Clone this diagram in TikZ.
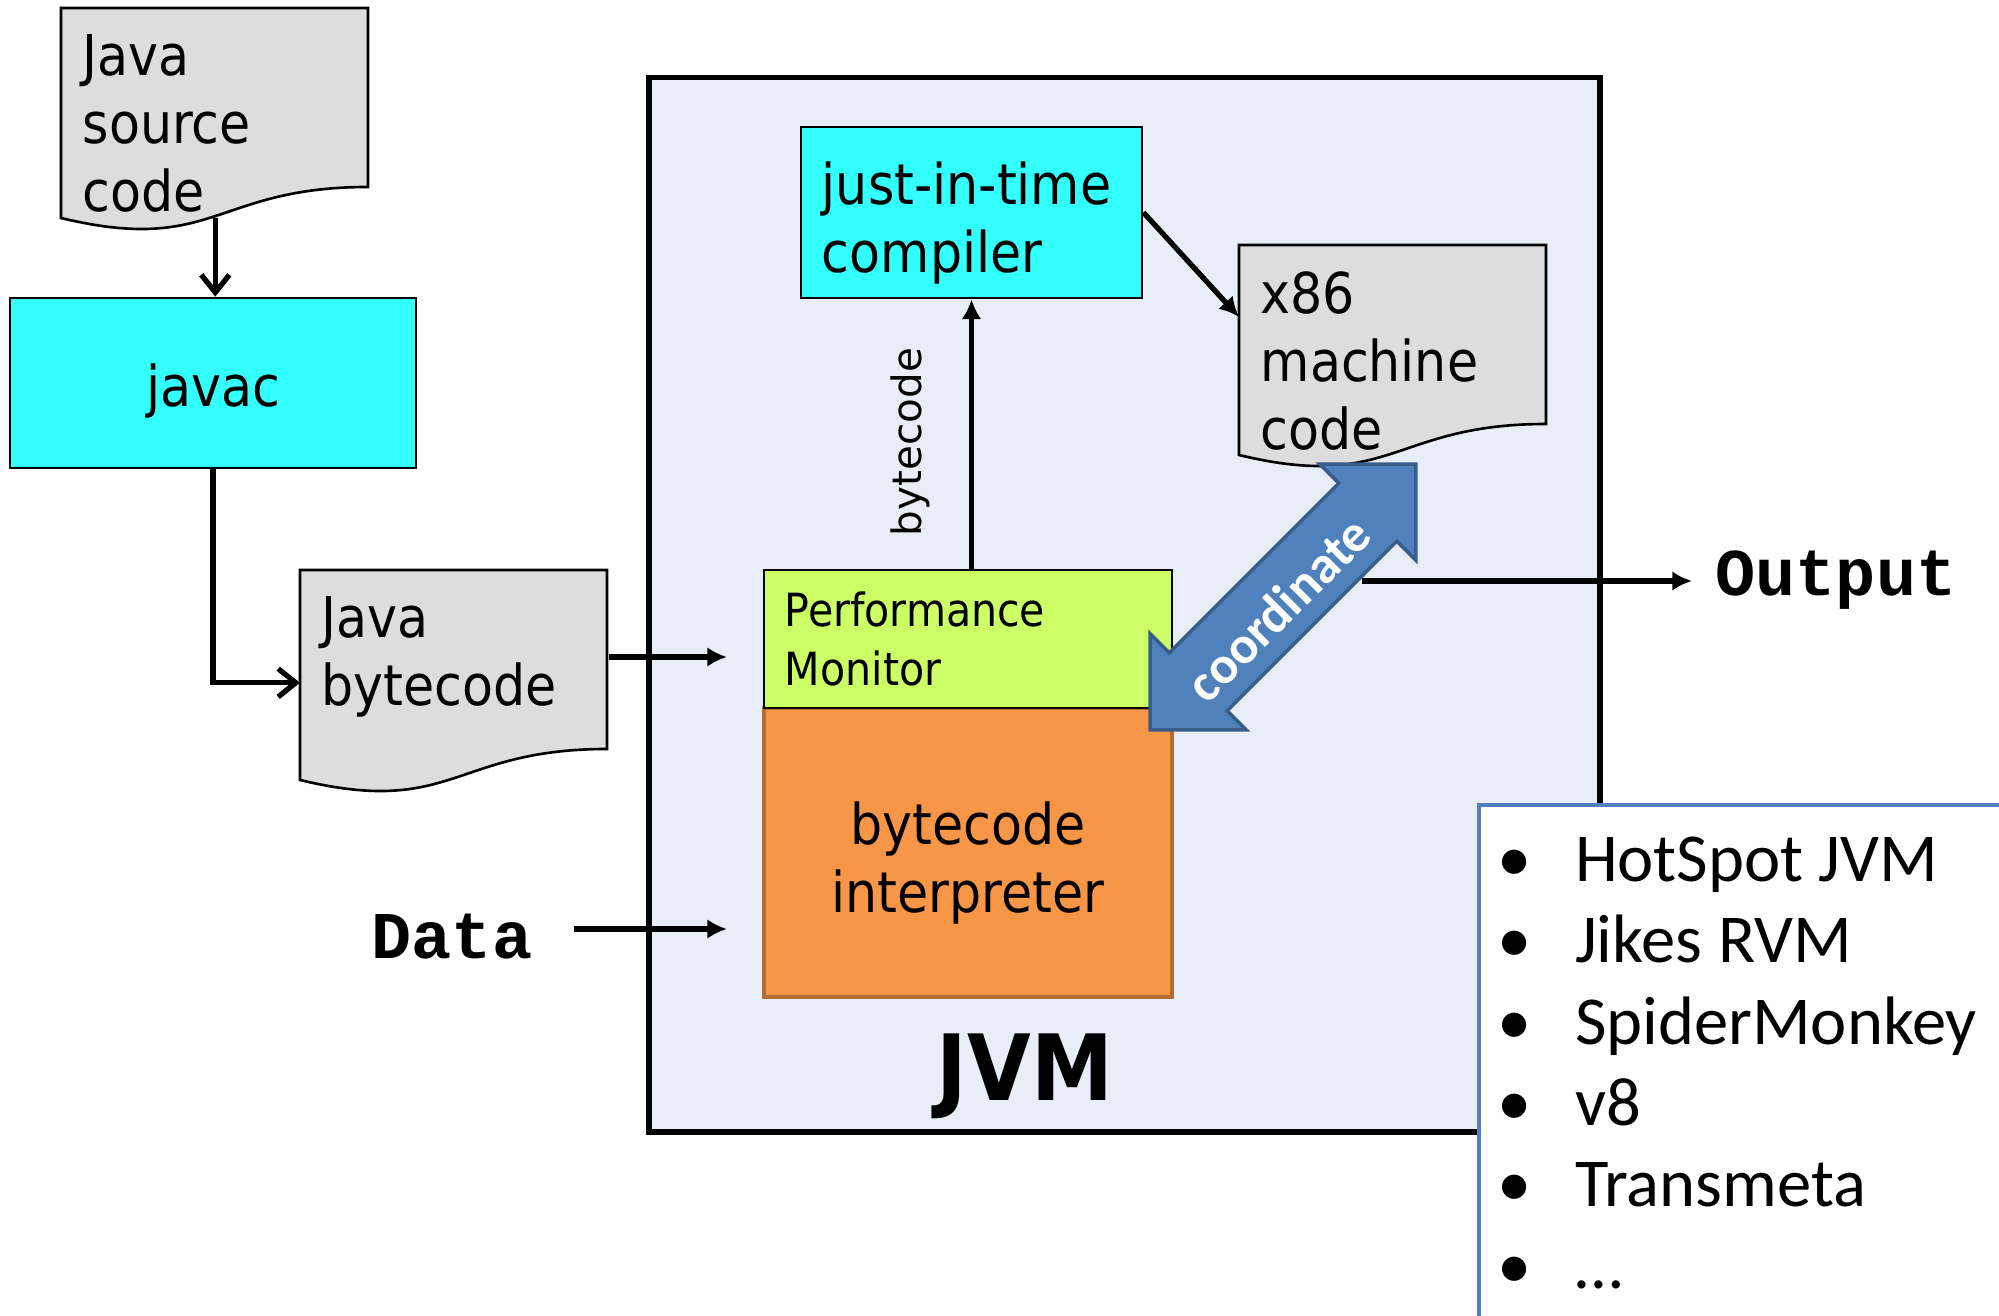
\documentclass[tikz,border=0pt]{standalone}
\usepackage{fontspec}
\setmainfont{DejaVu Sans Condensed}
\newfontfamily\verdana{DejaVu Sans}
\newfontfamily\calibri{Carlito}
\newfontfamily\courier{Liberation Mono}
\usetikzlibrary{positioning}
\usetikzlibrary{arrows.meta}
\usetikzlibrary{calc}

\definecolor{jvmfill}{HTML}{E8EEF7}
\definecolor{toolcyan}{HTML}{33FFFF}
\definecolor{pagegray}{HTML}{DDDDDD}
\definecolor{monlime}{HTML}{CCFF66}
\definecolor{interporange}{HTML}{F79646}
\definecolor{interpedge}{HTML}{B66D31}
\definecolor{coordblue}{HTML}{4F81BD}
\definecolor{coordedge}{HTML}{385D8A}

% page with a wavy lower edge
\newcommand{\docpage}[4]{%
  \begin{scope}[shift={(#2,#3)}]
    \draw[docline] (0,0) -- (307,0) -- (307,179) .. controls (153.5,179) and (153.5,247) .. (0,210) -- cycle;
    \node[docframe] (#1) at (0,0) {};
    \node[doctext] at (21,26) {#4};
  \end{scope}}
\newcommand{\bul}{\makebox[22pt][l]{\textbullet}}

\begin{document}
\begin{tikzpicture}[x=0.01cm, y=-0.01cm,
    docline/.style={draw=black, line width=0.75pt, fill=pagegray},
    docframe/.style={anchor=north west, inner sep=0, minimum width=3.07cm, minimum height=2.08cm},
    doctext/.style={anchor=north west, inner sep=0, align=left, font=\fontsize{16}{19.3}\selectfont},
    toolbox/.style={draw=black, line width=0.75pt, fill=toolcyan, font=\fontsize{16}{19.3}\selectfont},
    arr/.style={line width=1.5pt, -{Latex[length=5.6pt,width=5.6pt]}},
    barb/.style={line width=1.5pt, -{Straight Barb[length=5pt,width=8pt]}},
    monotext/.style={inner sep=0, font=\courier\bfseries\fontsize{19}{22}\selectfont},
    coordarrow/.style={draw=coordedge, line width=1pt, fill=coordblue, line join=miter},
    coordtext/.style={text=white, font=\calibri\bfseries\fontsize{15}{18}\selectfont},
    listtext/.style={anchor=north west, inner sep=0, align=left, font=\calibri\fontsize{19.5}{23.15}\selectfont},
  ]
  \useasboundingbox (0,0) rectangle (1999,1316);
  \clip (0,0) rectangle (1999,1316);

  % the virtual machine
  \node[draw=black, line width=1.6pt, fill=jvmfill, minimum width=9.51cm, minimum height=10.54cm] (jvm) at (1124.5,605) {};
  \node[anchor=base, font=\bfseries\fontsize{26}{30}\selectfont] (jvmlabel) at (1025,1101) {JVM};

  % pages
  \docpage{src}{61}{8}{Java\\source\\code}
  \docpage{jbc}{300}{570}{Java\\bytecode}
  \docpage{x86}{1239}{245}{x86\\machine\\code}

  % boxes
  \node[toolbox, minimum width=4.06cm, minimum height=1.70cm] (javac) at (213,383) {\rule{0pt}{16.7pt}javac};
  \node[toolbox, text width=2.99cm, inner xsep=0.21cm, minimum height=1.71cm, align=left] (jit) at (971.5,212.5)
       {\rule{0pt}{18pt}just-in-time\\compiler};
  \node[fill=interporange, draw=interpedge, line width=1.2pt, minimum width=4.08cm, minimum height=2.89cm, align=center,
        font=\fontsize{16}{19.3}\selectfont] (interp) at (968,852.5) {\rule{0pt}{18pt}bytecode\\interpreter};
  \node[draw=black, line width=0.75pt, fill=monlime, text width=3.66cm, inner xsep=0.21cm, minimum height=1.38cm, align=left,
        font=\fontsize{13}{17}\selectfont] (pm) at (968,639) {Performance\\Monitor};

  % inputs and output
  \node[monotext] (data) at (452,937) {Data};
  \node[monotext] (out) at (1836,580) {Output};
  \coordinate (pmin) at (727,657);
  \coordinate (datain) at (727,929);
  \coordinate (outstart) at (1362,581);

  % connectors
  \draw[barb] (src.south) -- (src.south |- javac.north);
  \draw[barb] (javac.south) |- ([yshift=-0.08cm]jbc.west);
  \draw[arr] (jbc.east |- pmin) -- (pmin);
  \draw[arr] ([xshift=0.41cm]data.east |- datain) -- (datain);
  \draw[arr] (jit.south |- pm.north) -- node[pos=0.47, sloped, above=11pt, inner sep=0, font=\verdana\fontsize{11.5}{14}\selectfont] {bytecode} (jit.south);
  \draw[arr] (jit.east) -- (x86.168);
  \draw[arr] (outstart) -- ([xshift=-0.23cm]out.west |- outstart);

  % two-way block arrow
  \begin{scope}[shift={(1283,597)}, rotate=45]
    \draw[coordarrow] (188,0) -- (120,68) -- (120,41) -- (-120,41) -- (-120,68) -- (-188,0)
      -- (-120,-68) -- (-120,-41) -- (120,-41) -- (120,-68) -- cycle;
    \node[coordtext, rotate=45] (coordlabel) at (-12,5) {coordinate};
  \end{scope}

  % implementations
  \draw[draw=coordblue, line width=1.4pt, fill=white] (1479,805) rectangle (2060,1370);
  \node[listtext] (impls) at (1497,836) {\bul HotSpot JVM\\ \bul Jikes RVM\\ \bul SpiderMonkey\\ \bul v8\\ \bul Transmeta\\ \bul …};
\end{tikzpicture}
\end{document}
